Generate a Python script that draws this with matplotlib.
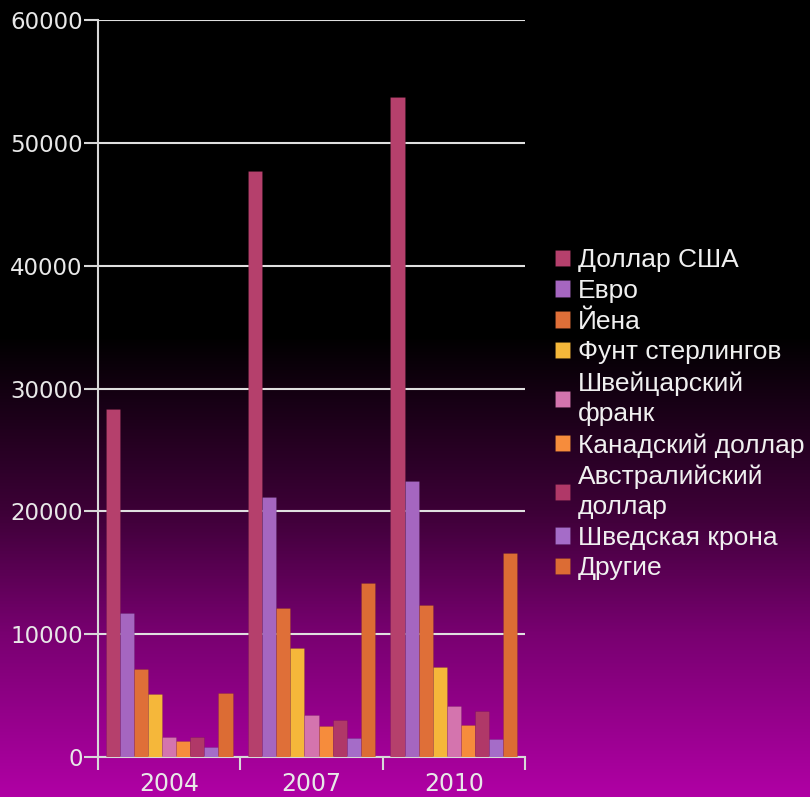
import numpy as np
import matplotlib
matplotlib.use("Agg")
import matplotlib.pyplot as plt
from matplotlib.colors import LinearSegmentedColormap

years = ["2004", "2007", "2010"]
currencies = ["Доллар США", "Евро", "Йена", "Фунт стерлингов", "Швейцарский\nфранк",
              "Канадский доллар", "Австралийский\nдоллар", "Шведская крона", "Другие"]
usd = [28300, 47700, 53700]
eur = [11700, 21200, 22500]
jpy = [7200, 12100, 12400]
gbp = [5100, 8900, 7300]
chf = [1600, 3400, 4150]
cad = [1300, 2550, 2600]
aud = [1600, 3000, 3750]
sek = [850, 1550, 1450]
other = [5200, 14150, 16600]
series = [usd, eur, jpy, gbp, chf, cad, aud, sek, other]
colors = ["#B5406C", "#A566C0", "#DF6F38", "#F5B73A", "#D474AE",
          "#F68C3C", "#B03868", "#A56CC8", "#DC6C34"]

plt.rcParams['font.family'] = ['DejaVu Sans']
fig = plt.figure(figsize=(8.1, 7.97), dpi=100)

# background gradient
bg = fig.add_axes([0, 0, 1, 1], zorder=0)
cmap = LinearSegmentedColormap.from_list("bg", [(0, "#000000"), (0.42, "#000000"),
                                               (0.64, "#3C0036"), (0.795, "#780070"),
                                               (1.0, "#B000A4")])
grad = np.linspace(0, 1, 512).reshape(-1, 1)
bg.imshow(grad, aspect="auto", cmap=cmap, extent=[0, 1, 1, 0])
bg.axis("off")

ax = fig.add_axes([98/810, 1 - 757/797, 427/810, 737/797], zorder=1)
ax.patch.set_alpha(0)

x = np.arange(len(years))
w = 0.099
for i, (vals, c, lab) in enumerate(zip(series, colors, currencies)):
    ax.bar(x + (i - 4) * w, vals, width=w, color=c, label=lab,
           edgecolor="#00000022", linewidth=0.5, zorder=3)

ax.set_xlim(-0.5, 2.5)
ax.set_ylim(0, 60000)
ax.set_yticks(np.arange(0, 60001, 10000))
ax.set_yticklabels([str(v) for v in range(0, 60001, 10000)])
ax.grid(axis="y", color="#E0E0E0", linewidth=1.5, zorder=1)
ax.set_axisbelow(True)

ax.set_xticks([-0.5, 0.5, 1.5, 2.5])
ax.set_xticklabels([])
ax.set_xticks(x, minor=True)
ax.set_xticklabels(years, minor=True)
ax.tick_params(axis="x", which="minor", length=0, pad=11, labelsize=17, labelcolor="#E8E8E8")
ax.tick_params(axis="x", which="major", length=9, width=1.5, color="#D8D8D8", direction="out")
ax.tick_params(axis="y", length=10, width=1.5, color="#D8D8D8", labelsize=16.5,
               labelcolor="#E8E8E8", pad=1)

for s in ["top", "right"]:
    ax.spines[s].set_visible(False)
for s in ["left", "bottom"]:
    ax.spines[s].set_color("#D8D8D8")
    ax.spines[s].set_linewidth(1.5)

leg = ax.legend(loc="center left", bbox_to_anchor=(1.045, 0.465), frameon=False,
                prop={"family": ["Liberation Sans", "DejaVu Sans"], "size": 19},
                labelcolor="#F0F0F0", handlelength=0.58, handleheight=0.58,
                handletextpad=0.3, labelspacing=0.255, borderaxespad=0)
for t in leg.get_texts():
    t.set_linespacing(1.32)

fig.savefig("out.png", dpi=100)
